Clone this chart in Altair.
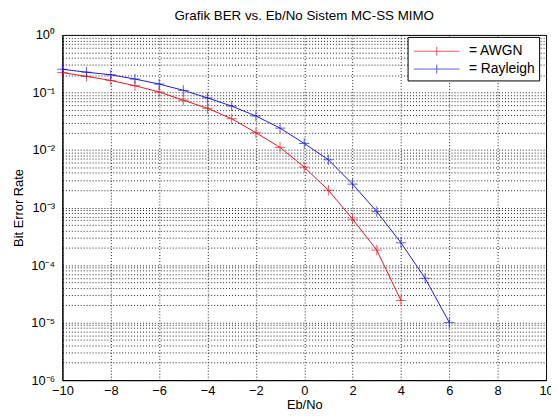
import altair as alt
import pandas as pd

# ---- data ----
ebno_awgn = list(range(-10, 5))
ber_awgn = [0.222, 0.19, 0.162, 0.131, 0.102, 0.0734, 0.053, 0.035, 0.020,
            0.0111, 0.00504, 0.0020, 6.3e-4, 1.82e-4, 2.42e-5]
ebno_ray = list(range(-10, 7))
ber_ray = [0.253, 0.225, 0.203, 0.171, 0.140, 0.109, 0.0805, 0.058, 0.039,
           0.024, 0.013, 0.00676, 0.00255, 8.5e-4, 2.44e-4, 5.9e-5, 1.0e-5]
series = ["AWGN", "Rayleigh"]
colors = ["#e8141c", "#1a1ad2"]
x_ticks = list(range(-10, 11, 2))
decades = list(range(-6, 1))

rows = []
for x, b in zip(ebno_awgn, ber_awgn):
    rows.append({"ebno": x, "ber": b, "series": "AWGN"})
for x, b in zip(ebno_ray, ber_ray):
    rows.append({"ebno": x, "ber": b, "series": "Rayleigh"})
df = pd.DataFrame(rows)

# y tick values: decades plus minor 2..9 multiples
y_vals = []
for d in decades:
    y_vals.append(10.0 ** d)
    if d < 0:
        for m in range(2, 10):
            y_vals.append(m * 10.0 ** d)

sup = {"0": "\u2070", "1": "\u00b9", "2": "\u00b2", "3": "\u00b3", "4": "\u2074",
       "5": "\u2075", "6": "\u2076", "-": "\u207b"}
expr = "''"
for d in decades:
    s = "10" + "".join(sup[c] for c in str(d))
    expr = f"abs(log(datum.value)/LN10 - ({d})) < 0.001 ? '{s}' : ({expr})"

FONT = "Liberation Sans"
base = alt.Chart(df)

color = alt.Color(
    "series:N",
    scale=alt.Scale(domain=series, range=colors),
    legend=alt.Legend(
        title=None, orient="none", legendX=349, legendY=2,
        fillColor="white", strokeColor="black", padding=4,
        symbolType="M-2.3,0H2.3M0,-0.45V0.45", symbolSize=400,
        symbolStrokeWidth=1, symbolFillColor="transparent",
        labelExpr="'= ' + datum.label", labelFont=FONT, labelFontSize=14,
        labelColor="black", rowPadding=0, symbolOffset=15, labelOffset=22,
    ),
)

x_enc = alt.X("ebno:Q", scale=alt.Scale(domain=[-10, 10], nice=False),
              axis=alt.Axis(values=x_ticks, title="Eb/No", grid=True,
                            labelPadding=5, titlePadding=1,
                            titleFontWeight="normal"))
y_enc = alt.Y("ber:Q", scale=alt.Scale(type="log", domain=[1e-6, 1], nice=False),
              axis=alt.Axis(values=y_vals, labelExpr=expr, title="Bit Error Rate",
                            grid=True, labelPadding=8, titlePadding=5,
                            titleFontWeight="normal"))

lines = base.mark_line(strokeWidth=1).encode(x=x_enc, y=y_enc, color=color)
points = base.mark_point(shape="M-1,0H1M0,-1V1", size=110, strokeWidth=1,
                         filled=False).encode(x=x_enc, y=y_enc, color=color)

chart = (lines + points).properties(
    width=489, height=349,
    background="white",
    padding={"left": 55, "top": 25, "right": 5, "bottom": 30},
    autosize=alt.AutoSizeParams(type="none"),
    title=alt.TitleParams("Grafik BER vs. Eb/No Sistem MC-SS MIMO", font=FONT,
                          fontSize=13.5, fontWeight="normal", offset=7,
                          color="black"),
).configure_view(stroke="black", strokeWidth=1).configure_axis(
    labelFont=FONT, titleFont=FONT, labelFontSize=13, titleFontSize=13,
    titleFontWeight="normal", labelColor="black", titleColor="black",
    gridColor="#222222", gridDash=[1, 2], gridOpacity=1, gridWidth=1,
    ticks=False, domainColor="black", labelFlush=False,
)

chart.save("out.html", embed_options={"renderer": "svg", "actions": False})
